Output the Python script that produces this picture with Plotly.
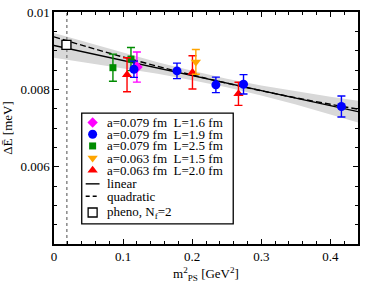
import plotly.graph_objects as go

# ---------------- data ----------------
# a=0.079 fm, L=1.6 fm
m16_x = [0.120]
m16_y = [0.008576]
m16_e = [0.00039]
# a=0.079 fm, L=1.9 fm
b19_x = [0.1157, 0.178, 0.2343, 0.2743, 0.416]
b19_y = [0.008519, 0.008477, 0.008116, 0.008131, 0.007556]
b19_e = [0.00021, 0.00020, 0.00020, 0.00025, 0.00027]
# a=0.079 fm, L=2.5 fm
g25_x = [0.0853, 0.1114]
g25_y = [0.008560, 0.008783]
g25_e = [0.00035, 0.00030]
# a=0.063 fm, L=1.5 fm
o15_x = [0.2053]
o15_y = [0.008709]
o15_e = [0.00032]
# a=0.063 fm, L=2.0 fm
r20_x = [0.1057, 0.2004, 0.267]
r20_y = [0.008378, 0.008437, 0.007884]
r20_e = [0.00044, 0.00043, 0.00030]
# phenomenological value
ph_x = [0.018]
ph_y = [0.00915]
ph_e = [0.00006]
# physical pion mass squared (dotted line)
MPI2_PHYS = 0.0186

# linear fit line
lin_x = [0.0, 0.44]
lin_y = [0.009136, 0.007424]
# quadratic fit line
quad_x = [0.0, 0.05, 0.10, 0.15, 0.20, 0.25, 0.30, 0.35, 0.40, 0.44]
quad_y = [0.009358, 0.009090, 0.008836, 0.008596, 0.008371, 0.008160,
          0.007964, 0.007781, 0.007613, 0.007489]
# error band of linear fit
band_x = [0.0, 0.05, 0.10, 0.15, 0.20, 0.25, 0.30, 0.35, 0.40, 0.44]
band_hi = [0.009456, 0.009202, 0.008947, 0.008703, 0.008478, 0.008274,
           0.008099, 0.007945, 0.007810, 0.007704]
band_lo = [0.008816, 0.008682, 0.008547, 0.008403, 0.008238, 0.008054,
           0.007839, 0.007605, 0.007350, 0.007144]

X_RANGE = [0.0, 0.44]
Y_RANGE = [0.004, 0.01]
x_ticks = [0, 0.1, 0.2, 0.3, 0.4]
x_labels = ["0", "0.1", "0.2", "0.3", "0.4"]
y_ticks = [0.006, 0.008, 0.01]
y_labels = ["0.006", "0.008", "0.01"]

legend_labels = ["a=0.079 fm  L=1.6 fm", "a=0.079 fm  L=1.9 fm",
                 "a=0.079 fm  L=2.5 fm", "a=0.063 fm  L=1.5 fm",
                 "a=0.063 fm  L=2.0 fm", "linear", "quadratic",
                 "pheno, N<sub>f</sub>=2"]

# ---------------- styles ----------------
FONT = "Liberation Serif, Times New Roman, serif"
C_MAG, C_BLUE, C_GREEN, C_ORANGE, C_RED = "#ff00ff", "#0000ff", "#008c00", "#ffa500", "#ff0000"

W, H = 366, 284
L_M, R_M, T_M, B_M = 51, 8, 5, 36
PW, PH = W - L_M - R_M, H - T_M - B_M
EPS = 1e-9

fig = go.Figure()

# band
fig.add_trace(go.Scatter(x=band_x, y=band_hi, mode="lines", line=dict(width=0),
                         showlegend=False, hoverinfo="skip"))
fig.add_trace(go.Scatter(x=band_x, y=band_lo, mode="lines", line=dict(width=0),
                         fill="tonexty", fillcolor="#d8d8d8", showlegend=False,
                         hoverinfo="skip"))
# dotted vertical line
fig.add_trace(go.Scatter(x=[MPI2_PHYS, MPI2_PHYS], y=Y_RANGE, mode="lines",
                         line=dict(color="#777777", width=1.3, dash="dot"),
                         showlegend=False))
# fit lines
fig.add_trace(go.Scatter(x=lin_x, y=lin_y, mode="lines",
                         line=dict(color="black", width=1.4), showlegend=False))
fig.add_trace(go.Scatter(x=quad_x, y=quad_y, mode="lines", line_shape="spline",
                         line=dict(color="black", width=1.4, dash="6px,3px"),
                         showlegend=False))


def pts(x, y, e, color, symbol, size):
    fig.add_trace(go.Scatter(
        x=x, y=y, mode="markers",
        marker=dict(color=color, symbol=symbol, size=size, line=dict(width=0)),
        error_y=dict(type="data", array=e, visible=True, color=color,
                     thickness=1.4, width=4),
        showlegend=False))


pts(g25_x, g25_y, g25_e, C_GREEN, "square", 7)
pts(r20_x, r20_y, r20_e, C_RED, "triangle-up", 9)
pts(o15_x, o15_y, o15_e, C_ORANGE, "triangle-down", 9)
pts(m16_x, m16_y, m16_e, C_MAG, "diamond", 9)
pts(b19_x, b19_y, b19_e, C_BLUE, "circle", 9)
fig.add_trace(go.Scatter(
    x=ph_x, y=ph_y, mode="markers",
    marker=dict(color="white", symbol="square", size=9,
                line=dict(color="black", width=1.4)),
    error_y=dict(type="data", array=ph_e, visible=True, color="black",
                 thickness=1.2, width=2),
    showlegend=False))

# ---------------- custom legend (overlay axes in plot pixels) ----------------
row_y = [115.7, 128, 140.3, 153, 165.7, 180, 193, 210]
mk_x = 39
txt_x = 52
box = dict(x0=28, x1=181, y0=106, y1=222)

leg_markers = [(C_MAG, "diamond", 8), (C_BLUE, "circle", 9), (C_GREEN, "square", 7),
               (C_ORANGE, "triangle-down", 9), (C_RED, "triangle-up", 9)]
for i, (c, s, sz) in enumerate(leg_markers):
    fig.add_trace(go.Scatter(x=[mk_x], y=[row_y[i]], xaxis="x2", yaxis="y2",
                             mode="markers",
                             marker=dict(color=c, symbol=s, size=sz, line=dict(width=0)),
                             showlegend=False))
fig.add_trace(go.Scatter(x=[mk_x - 7, mk_x + 7], y=[row_y[5]] * 2, xaxis="x2", yaxis="y2",
                         mode="lines", line=dict(color="black", width=1.4),
                         showlegend=False))
fig.add_trace(go.Scatter(x=[mk_x - 7, mk_x + 7], y=[row_y[6]] * 2, xaxis="x2", yaxis="y2",
                         mode="lines", line=dict(color="black", width=1.4, dash="4px,3px"),
                         showlegend=False))
fig.add_trace(go.Scatter(x=[mk_x], y=[row_y[7]], xaxis="x2", yaxis="y2",
                         mode="markers",
                         marker=dict(color="white", symbol="square", size=9,
                                     line=dict(color="black", width=1.3)),
                         showlegend=False))

annotations = []
for i, lab in enumerate(legend_labels):
    annotations.append(dict(x=txt_x, y=row_y[i], xref="x2", yref="y2", text=lab,
                            showarrow=False, xanchor="left", yanchor="middle",
                            font=dict(family=FONT, size=13, color="black")))

shapes = [dict(type="rect", xref="x2", yref="y2", x0=box["x0"], x1=box["x1"],
               y0=box["y0"], y1=box["y1"], line=dict(color="black", width=1.3),
               fillcolor="white", layer="below")]

axis_common = dict(showgrid=False, zeroline=False, showline=True, linecolor="black",
                   linewidth=1.5, mirror="allticks", ticks="inside", ticklen=5,
                   tickwidth=1.2, tickcolor="black", ticklabeloverflow="allow",
                   tickfont=dict(family=FONT, size=13, color="black"))

fig.update_layout(
    width=W, height=H, margin=dict(l=L_M, r=R_M, t=T_M, b=B_M),
    paper_bgcolor="white", plot_bgcolor="white", showlegend=False,
    xaxis=dict(range=X_RANGE, tickvals=x_ticks, ticktext=x_labels,
               minor=dict(dtick=0.02, ticks="inside", ticklen=3, tickcolor="black",
                          tickwidth=1),
               title=dict(text="m<sup>2</sup><sub>PS</sub> [GeV<sup>2</sup>]",
                          font=dict(family=FONT, size=13, color="black"), standoff=6),
               **axis_common),
    yaxis=dict(range=[Y_RANGE[0], Y_RANGE[1] + EPS], tickvals=y_ticks, ticktext=y_labels,
               minor=dict(dtick=0.0005, ticks="inside", ticklen=3, tickcolor="black",
                          tickwidth=1),
               title=dict(text="ΔĒ [meV]",
                          font=dict(family=FONT, size=13, color="black"), standoff=6),
               **axis_common),
    xaxis2=dict(overlaying="x", range=[0, PW], visible=False, fixedrange=True),
    yaxis2=dict(overlaying="y", range=[PH, 0], visible=False, fixedrange=True),
    annotations=annotations, shapes=shapes,
)

fig.write_html("out.html", config={"displayModeBar": False},
               post_script="document.body.style.margin='0';"
                           "document.documentElement.style.overflow='hidden';")
